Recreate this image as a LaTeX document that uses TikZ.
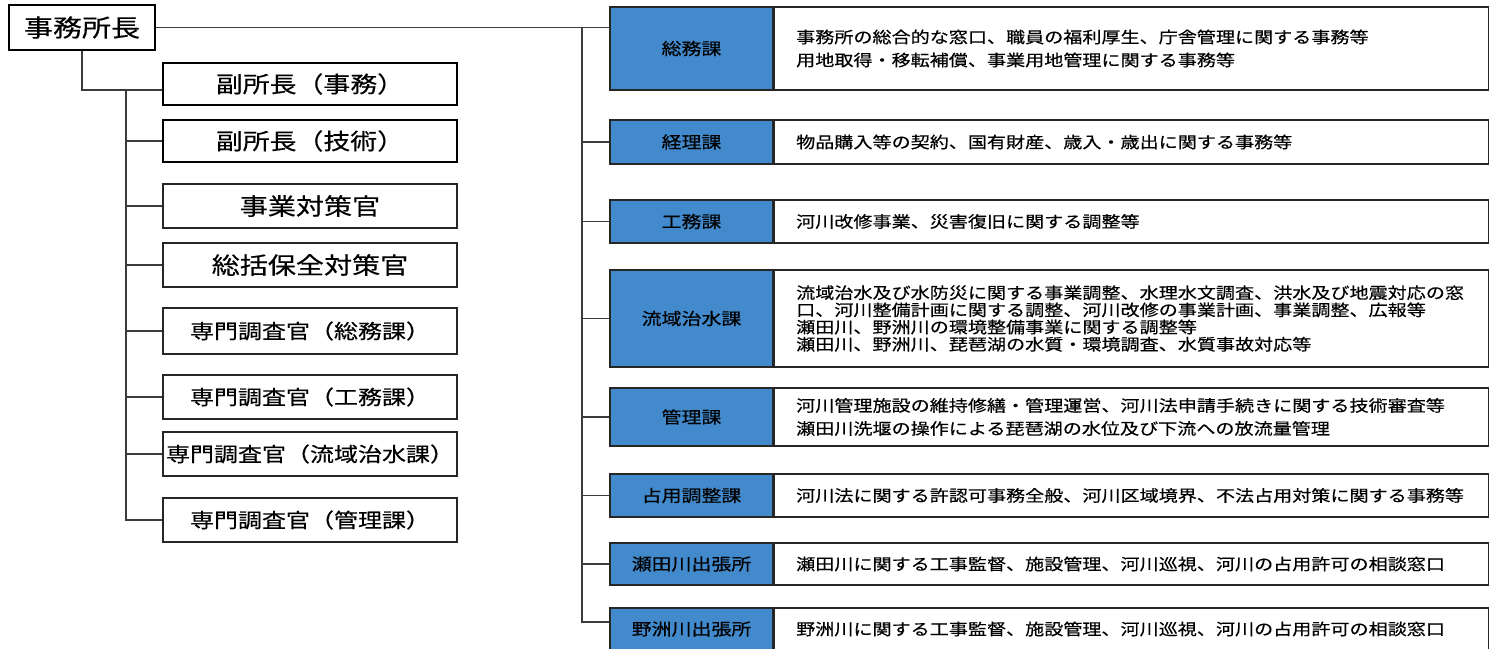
\documentclass[tikz,border=0pt]{standalone}
\usepackage{fontspec}
\newfontfamily\jp[FakeStretch=1.2,FakeBold=0.4]{Noto Sans CJK JP}
\definecolor{kablue}{RGB}{66,138,204}
\definecolor{linegray}{RGB}{60,60,60}
\begin{document}
\begin{tikzpicture}[x=0.5pt, y=-0.5pt,
  every node/.style = {shape=rectangle, draw=black!85, line width=0.6pt,
    inner sep=0pt, align=center},
  boss/.style = {draw=black, line width=1.4pt, minimum width=147pt,
    minimum height=21pt, font=\jp\fontsize{11.2}{12}\selectfont},
  staff/.style = {minimum width=147pt, minimum height=22pt,
    font=\jp\fontsize{11.7}{12}\selectfont},
  expert/.style = {staff, font=\jp\fontsize{10}{12}\selectfont},
  dept/.style = {fill=kablue, minimum width=81.5pt,
    font=\jp\fontsize{8.3}{10}\selectfont},
  duty/.style = {anchor=west, minimum width=357pt, text width=335pt,
    inner xsep=11pt, align=left, font=\jp\fontsize{7.95}{11.5}\selectfont},
  link/.style = {draw=linegray, line width=0.6pt}]
  \useasboundingbox (0,0) rectangle (1493,648);

  % left column
  \node[boss, minimum width=73pt, minimum height=22.5pt,
    font=\jp\fontsize{12.1}{13}\selectfont] (chief) at (82,27.5) {事務所長};
  \node[boss] (fuku1) at (310,84) {副所長（事務）};
  \node[boss] (fuku2) at (310,141) {副所長（技術）};
  \node[staff] (jigyo) at (310,206) {事業対策官};
  \node[staff] (hozen) at (310,265) {総括保全対策官};
  \node[expert, minimum height=23pt] (sen1) at (310,331) {専門調査官（総務課）};
  \node[expert] (sen2) at (310,397) {専門調査官（工務課）};
  \node[expert] (sen3) at (310,454) {専門調査官（流域治水課）};
  \node[expert] (sen4) at (310,520) {専門調査官（管理課）};

  % right column
  \node[dept, minimum height=41.5pt] (somu) at (691.5,48.5) {総務課};
  \node[duty, minimum height=41.5pt] (somu-d) at (somu.east)
    {事務所の総合的な窓口、職員の福利厚生、庁舎管理に関する事務等\\
     用地取得・移転補償、事業用地管理に関する事務等};
  \node[dept, minimum height=22pt] (keiri) at (691.5,142) {経理課};
  \node[duty, minimum height=22pt] (keiri-d) at (keiri.east)
    {物品購入等の契約、国有財産、歳入・歳出に関する事務等};
  \node[dept, minimum height=21.5pt] (komu) at (691.5,221.5) {工務課};
  \node[duty, minimum height=21.5pt] (komu-d) at (komu.east)
    {河川改修事業、災害復旧に関する調整等};
  \node[dept, minimum height=48.5pt] (ryuiki) at (691.5,318.5) {流域治水課};
  \node[duty, minimum height=48.5pt, font=\jp\fontsize{7.95}{8.6}\selectfont]
    (ryuiki-d) at (ryuiki.east)
    {流域治水及び水防災に関する事業調整、水理水文調査、洪水及び地震対応の窓\\
     口、河川整備計画に関する調整、河川改修の事業計画、事業調整、広報等\\
     瀬田川、野洲川の環境整備事業に関する調整等\\
     瀬田川、野洲川、琵琶湖の水質・環境調査、水質事故対応等};
  \node[dept, minimum height=29pt] (kanri) at (691.5,417) {管理課};
  \node[duty, minimum height=29pt] (kanri-d) at (kanri.east)
    {河川管理施設の維持修繕・管理運営、河川法申請手続きに関する技術審査等\\
     瀬田川洗堰の操作による琵琶湖の水位及び下流への放流量管理};
  \node[dept, minimum height=21.5pt] (senyo) at (691.5,495.5) {占用調整課};
  \node[duty, minimum height=21.5pt] (senyo-d) at (senyo.east)
    {河川法に関する許認可事務全般、河川区域境界、不法占用対策に関する事務等};
  \node[dept, minimum height=21pt] (seta) at (691.5,564) {瀬田川出張所};
  \node[duty, minimum height=21pt] (seta-d) at (seta.east)
    {瀬田川に関する工事監督、施設管理、河川巡視、河川の占用許可の相談窓口};
  \node[dept, minimum height=21pt] (nosu) at (691.5,629) {野洲川出張所};
  \node[duty, minimum height=21pt] (nosu-d) at (nosu.east)
    {野洲川に関する工事監督、施設管理、河川巡視、河川の占用許可の相談窓口};

  % connectors
  \draw[link] (chief.south) |- ([yshift=-3pt]fuku1.west);
  \coordinate (ltrunk) at (126,90);
  \draw[link] (ltrunk) |- (sen4.west);
  \foreach \n in {fuku2,jigyo,hozen,sen1,sen2,sen3}
    \draw[link] (ltrunk |- \n.west) -- (\n.west);
  \draw[link] (chief.east) -- (chief.east -| somu.west);
  \coordinate (rtrunk) at (582,28);
  \draw[link] (rtrunk) |- ([yshift=3.5pt]nosu.west);
  \foreach \n in {keiri,komu,ryuiki,kanri,senyo,seta}
    \draw[link] (rtrunk |- \n.west) -- (\n.west);
\end{tikzpicture}
\end{document}
